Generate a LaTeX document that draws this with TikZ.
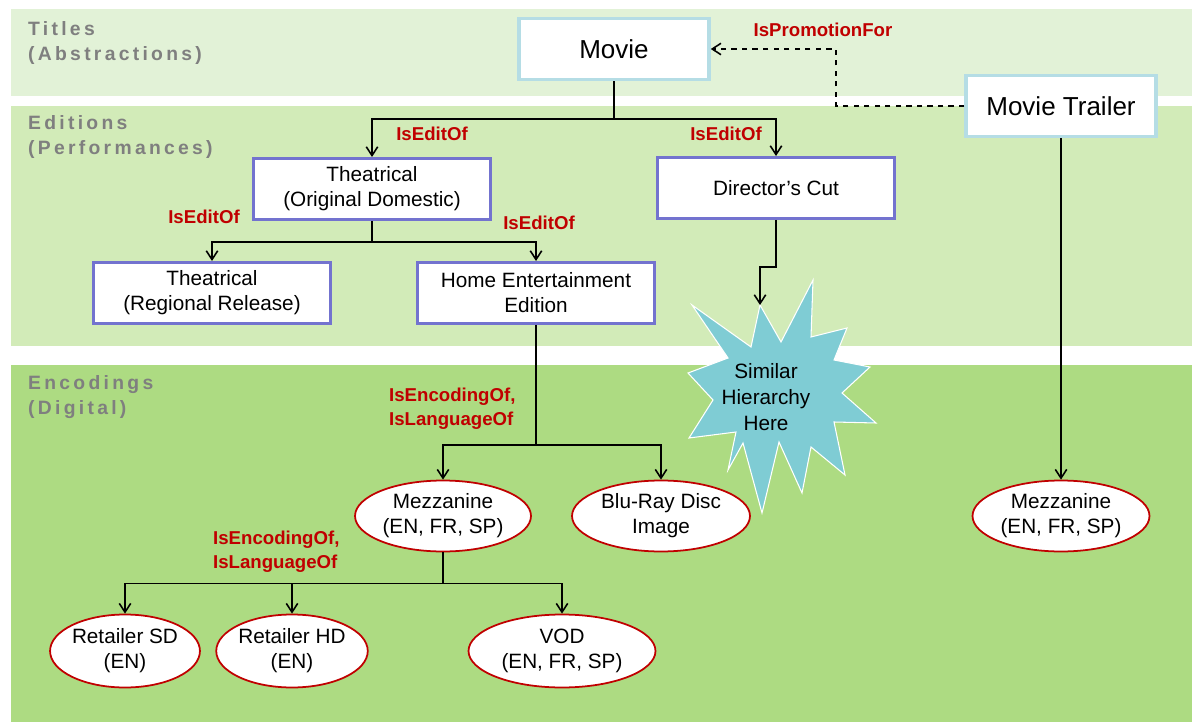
\documentclass[tikz,border=0pt]{standalone}
\usepackage{fontspec}
\setmainfont{Liberation Sans}
\newfontfamily\bandfont[LetterSpace=17]{Liberation Sans}
\usetikzlibrary{shapes.geometric,arrows.meta}
\definecolor{titlesbg}{HTML}{E2F2D7}
\definecolor{editionsbg}{HTML}{D2EBB8}
\definecolor{encodingsbg}{HTML}{ADDB82}
\definecolor{titleedge}{HTML}{B5DDE5}
\definecolor{editionedge}{HTML}{7373CF}
\definecolor{relred}{HTML}{C00000}
\definecolor{bandgray}{HTML}{7F7F7F}
\definecolor{starfill}{HTML}{7FCCD4}

\begin{document}
\begin{tikzpicture}[x=0.02cm,y=-0.02cm,>={Straight Barb[length=5pt,width=6.5pt]},
  every node/.style={font=\fontsize{11.8}{14.2}\selectfont,align=center},
  titlebox/.style={draw=titleedge,line width=2pt,fill=white,minimum width=3.8cm,minimum height=1.22cm,font=\fontsize{14.8}{17}\selectfont},
  editionbox/.style={draw=editionedge,line width=1.7pt,fill=white,minimum width=4.76cm,minimum height=1.22cm},
  encoding/.style={ellipse,draw=relred,line width=1pt,fill=white,inner sep=0pt,minimum height=1.42cm},
  rel/.style={text=relred,font=\fontsize{10.6}{13.6}\selectfont\bfseries},
  band/.style={text=bandgray,anchor=west,align=left,font=\fontsize{11}{14.2}\bandfont\bfseries},
  link/.style={line width=0.9pt,->}]
\useasboundingbox (0,0) rectangle (1192,722);
\fill[titlesbg] (11,9) rectangle (1192,96);
\fill[editionsbg] (11,106) rectangle (1192,346);
\fill[encodingsbg] (11,365) rectangle (1192,722);

\node[band] (titles) at (22,43) {Titles\\(Abstractions)};
\node[band] (editions) at (22,137) {Editions\\(Performances)};
\node[band] (encodings) at (22,397) {Encodings\\(Digital)};

\node[titlebox] (movie) at (614,49) {Movie};
\node[titlebox] (trailer) at (1061,106) {Movie Trailer};

\node[editionbox] (theat) at (372,189) {Theatrical\\(Original Domestic)};
\node[editionbox] (dcut) at (776,188) {Director's Cut};
\node[editionbox] (regional) at (212,293) {Theatrical\\(Regional Release)};
\node[editionbox] (home) at (536,293) {Home Entertainment\\Edition};

\node[encoding,minimum width=3.52cm] (mezz) at (443,516) {Mezzanine\\(EN, FR, SP)};
\node[encoding,minimum width=3.56cm] (bluray) at (661,516) {Blu-Ray Disc\\Image};
\node[encoding,minimum width=3.54cm] (mezzt) at (1061,516) {Mezzanine\\(EN, FR, SP)};
\node[encoding,minimum width=2.92cm,minimum height=1.46cm] (retsd) at (125,651) {Retailer SD\\(EN)};
\node[encoding,minimum width=2.92cm,minimum height=1.46cm] (rethd) at (292,651) {Retailer HD\\(EN)};
\node[encoding,minimum width=3.74cm,minimum height=1.46cm] (vod) at (562,651) {VOD\\(EN, FR, SP)};

\fill[starfill,draw=white,line width=0.6pt] (760,305) -- (781,342) -- (813,280) -- (811,337) -- (847,328) -- (834,360) -- (870,367) -- (842,393) -- (876,423) -- (834,422) -- (845,475) -- (811,447) -- (802,493) -- (779,442) -- (762,513) -- (743,443) -- (728,470) -- (736,432) -- (689,438) -- (713,400) -- (688,373) -- (728,358) -- (692,305) -- (751,347) -- cycle;
\coordinate (startip) at (760,305);
\node[font=\fontsize{11.8}{14.6}\selectfont] (star) at (766,397) {Similar\\Hierarchy\\Here};

\draw[line width=0.9pt] (movie.south) -- ++(0,38) coordinate (mj);
\draw[link] (mj) -| (theat.north);
\draw[link] (mj) -| (dcut.north);
\draw[line width=0.9pt] (theat.south) -- ++(0,21) coordinate (tj);
\draw[link] (tj) -| (regional.north);
\draw[link] (tj) -| (home.north);
\draw[link] (dcut.south) -- ++(0,47) -| (startip);
\draw[line width=1.2pt] (home.south) -- ++(0,120) coordinate (hj);
\draw[link] (hj) -| (mezz.north);
\draw[link] (hj) -| (bluray.north);
\draw[line width=1.2pt] (mezz.south) -- ++(0,31) coordinate (ej);
\draw[link] (ej) -| (retsd.north);
\draw[link] (ej) -| (rethd.north);
\draw[link] (ej) -| (vod.north);
\draw[link] (trailer.south) -- (mezzt.north);
\draw[link,dashed] (trailer.west) -- ++(-128,0) |- (movie.east);

\node[rel] (pr) at (823,30) {IsPromotionFor};
\node[rel] (e1) at (432,134) {IsEditOf};
\node[rel] (e2) at (726,134) {IsEditOf};
\node[rel] (e3) at (204,217) {IsEditOf};
\node[rel] (e4) at (539,223) {IsEditOf};
\node[rel,anchor=west,align=left] (enc1) at (383,409) {IsEncodingOf,\\IsLanguageOf};
\node[rel,anchor=west,align=left] (enc2) at (207,552) {IsEncodingOf,\\IsLanguageOf};
\end{tikzpicture}
\end{document}
